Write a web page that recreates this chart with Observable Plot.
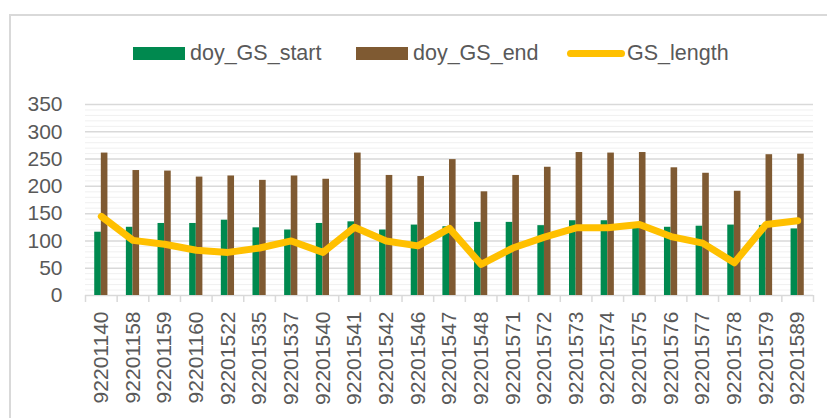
<!DOCTYPE html>
<html>
<head>
<meta charset="utf-8">
<script src="https://cdn.jsdelivr.net/npm/d3@7"></script>
<script src="https://cdn.jsdelivr.net/npm/@observablehq/plot@0.6"></script>
<style>
  html, body { margin: 0; padding: 0; background: #fff; overflow: hidden; }
  body { width: 827px; height: 418px; position: relative; font-family: "Liberation Sans", Arial, sans-serif; }
  #frame { position: absolute; left: 9px; top: 14px; width: 840px; height: 440px; border: 2px solid #d9d9d9; box-sizing: border-box; }
  .leg { position: absolute; top: 38px; height: 30px; display: flex; align-items: center; color: #595959; font-size: 21.5px; white-space: nowrap; }
  .sw { display: inline-block; margin-right: 5px; }
  #chart { position: absolute; left: 0; top: 70px; }
</style>
</head>
<body>
<div id="frame"></div>
<div class="leg" style="left:133px"><span class="sw" style="width:52px;height:13px;background:#00894F"></span>doy_GS_start</div>
<div class="leg" style="left:356px"><span class="sw" style="width:52px;height:13px;background:#7F5A32"></span>doy_GS_end</div>
<div class="leg" style="left:567px"><span class="sw" style="width:58px;height:7px;border-radius:4px;background:#FFC000;margin-right:2px"></span>GS_length</div>
<div id="chart"></div>
<script>
const ids = ["92201140","92201158","92201159","92201160","92201522","92201535","92201537","92201540","92201541","92201542","92201546","92201547","92201548","92201571","92201572","92201573","92201574","92201575","92201576","92201577","92201578","92201579","92201589"];
const gsStart = [116,125,132,132,138,124,120,132,135,120,129,126,134,134,128,137,137,131,125,127,129,128,122];
const gsEnd = [261,229,228,217,219,211,219,213,261,220,218,249,190,220,235,262,261,262,234,224,191,258,259];
const gsLength = [145,101,94,83,79,87,100,79,125,100,91,123,57,87,107,124,124,130,108,96,60,130,137];
const yTicks = [0,50,100,150,200,250,300,350];

const data = ids.map((id, i) => ({i, id, start: gsStart[i], end: gsEnd[i], len: gsLength[i]}));
const n = ids.length;
const minor = d3.range(0, 351, 10).filter(v => v % 50 !== 0);

const width = 827, height = 348;
const mL = 85, mR = 14;
const band = (width - mL - mR) / n;
const barW = 6.6;

const chart = Plot.plot({
  width, height,
  marginLeft: mL, marginRight: mR, marginTop: 34, marginBottom: 123,
  style: {fontFamily: "Liberation Sans, Arial, sans-serif", color: "#595959", background: "transparent"},
  x: {type: "linear", domain: [0, n], axis: null},
  y: {domain: [0, 350], axis: null},
  marks: [
    Plot.ruleY(minor, {stroke: "#f0f0f0", strokeWidth: 1}),
    Plot.ruleY(yTicks, {stroke: "#d9d9d9", strokeWidth: 1.5}),
    Plot.rectY(data, {x1: d => d.i, x2: d => d.i + 1, y1: 0, y2: "start", fill: "#00894F",
      insetLeft: band / 2 - barW, insetRight: band / 2}),
    Plot.rectY(data, {x1: d => d.i, x2: d => d.i + 1, y1: 0, y2: "end", fill: "#7F5A32",
      insetLeft: band / 2, insetRight: band / 2 - barW}),
    Plot.lineY(data, {x: d => d.i + 0.5, y: "len", stroke: "#FFC000", strokeWidth: 7,
      strokeLinejoin: "round", strokeLinecap: "round"}),
    Plot.axisY({ticks: yTicks, tickSize: 0, tickPadding: 23, fontSize: 21, anchor: "left", color: "#595959"}),
    Plot.axisX({ticks: d3.range(n + 1), tickSize: 7, tickFormat: () => "", anchor: "bottom", stroke: "#d9d9d9", strokeWidth: 1.5}),
    Plot.axisX({ticks: d3.range(n).map(i => i + 0.5), tickSize: 0, tickPadding: 16, tickRotate: -90,
      tickFormat: v => ids[Math.round(v - 0.5)], fontSize: 21, anchor: "bottom", color: "#595959"})
  ]
});
document.getElementById("chart").appendChild(chart);
</script>
</body>
</html>
